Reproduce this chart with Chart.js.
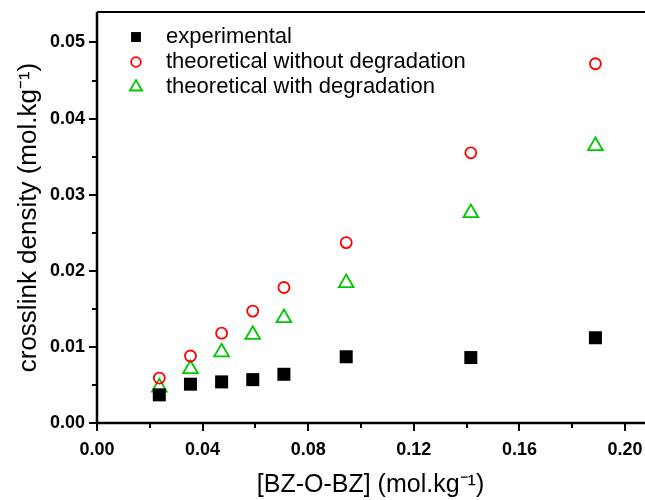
<!DOCTYPE html>
<html>
<head>
<meta charset="utf-8">
<script src="https://cdn.jsdelivr.net/npm/chart.js@4"></script>
<style>
html,body{margin:0;padding:0;background:#fff;overflow:hidden;}
#wrap{width:645px;height:500px;position:relative;}
</style>
</head>
<body>
<div id="wrap"><canvas id="c"></canvas></div>
<script>
// ---- data ----
const concentration = [0.0236, 0.0354, 0.0472, 0.0590, 0.0708, 0.0944, 0.1416, 0.1888];
const experimental = [0.0037, 0.0051, 0.0054, 0.0057, 0.0064, 0.0087, 0.0086, 0.0112];
const theoNoDegradation = [0.0059, 0.0088, 0.0118, 0.0147, 0.0178, 0.0237, 0.0355, 0.0472];
const theoWithDegradation = [0.0047, 0.0071, 0.0093, 0.0116, 0.0138, 0.0184, 0.0276, 0.0364];
const seriesNames = ['experimental', 'theoretical without degradation', 'theoretical with degradation'];
const xTickLabels = ['0.00', '0.04', '0.08', '0.12', '0.16', '0.20'];
const yTickLabels = ['0.00', '0.01', '0.02', '0.03', '0.04', '0.05'];
const xTitle = '[BZ-O-BZ] (mol.kg⁻¹)';
const yTitle = 'crosslink density (mol.kg⁻¹)';

const toPts = ys => concentration.map((x, i) => ({x: x, y: ys[i]}));
const FAMILY = '"Liberation Sans", Arial, Helvetica, sans-serif';

// stretch the plot area to the right edge (frame continues beyond the view)
const stretchPlugin = {
  id: 'stretchRight',
  afterLayout(chart) {
    const xs = chart.scales.x;
    const R = chart.width - 1;
    xs.right = R;
    xs.width = R - xs.left;
    xs.configure();
    xs._labelItems = null;
    xs._gridLineItems = null;
    chart.chartArea.right = R;
    chart.chartArea.width = R - chart.chartArea.left;
  }
};

const axesPlugin = {
  id: 'axesPlugin',
  afterDatasetsDraw(chart) {
    const ctx = chart.ctx;
    const a = chart.chartArea;
    const xs = chart.scales.x, ys = chart.scales.y;
    ctx.save();
    ctx.strokeStyle = '#000';
    ctx.lineWidth = 2;
    ctx.beginPath();
    ctx.moveTo(a.left, a.top); ctx.lineTo(chart.width, a.top);
    ctx.stroke();
    ctx.lineWidth = 2.5;
    ctx.beginPath();
    ctx.moveTo(a.left, a.top); ctx.lineTo(a.left, a.bottom); ctx.lineTo(chart.width, a.bottom);
    ctx.stroke();
    ctx.lineWidth = 2;
    xs.ticks.forEach(t => {
      const px = Math.round(xs.getPixelForValue(t.value));
      const major = Math.abs(Math.round(t.value / 0.04) * 0.04 - t.value) < 1e-9;
      ctx.beginPath();
      ctx.moveTo(px, a.bottom); ctx.lineTo(px, a.bottom + (major ? 8 : 5));
      ctx.stroke();
    });
    ys.ticks.forEach(t => {
      const py = Math.round(ys.getPixelForValue(t.value));
      const major = Math.abs(Math.round(t.value / 0.01) * 0.01 - t.value) < 1e-9;
      ctx.beginPath();
      ctx.moveTo(a.left, py); ctx.lineTo(a.left - (major ? 8 : 5), py);
      ctx.stroke();
    });
    ctx.restore();
  }
};

const legendPlugin = {
  id: 'insideLegend',
  afterDraw(chart) {
    const ctx = chart.ctx;
    const x0 = 136, tx = 166, y0 = 37, dy = 25;
    chart.data.datasets.forEach((ds, i) => {
      const y = y0 + i * dy;
      ctx.save();
      ctx.fillStyle = ds.backgroundColor;
      ctx.strokeStyle = ds.borderColor;
      ctx.lineWidth = ds.borderWidth;
      Chart.helpers.drawPoint(ctx, {pointStyle: ds.pointStyle, radius: ds.legendRadius, borderWidth: ds.borderWidth, rotation: 0}, x0, y);
      ctx.restore();
      ctx.save();
      ctx.font = '22px ' + FAMILY;
      ctx.textBaseline = 'middle';
      ctx.fillStyle = '#000';
      ctx.fillText(ds.label, tx, y);
      ctx.restore();
    });
  }
};

new Chart(document.getElementById('c'), {
  type: 'scatter',
  data: {
    datasets: [
      {label: seriesNames[0], data: toPts(experimental), pointStyle: 'rect', pointRadius: 9.2,
       backgroundColor: '#000', borderColor: '#000', borderWidth: 0, legendRadius: 7},
      {label: seriesNames[1], data: toPts(theoNoDegradation), pointStyle: 'circle', pointRadius: 5.5,
       backgroundColor: 'rgba(0,0,0,0)', borderColor: '#ff0000', borderWidth: 1.8, legendRadius: 4.8},
      {label: seriesNames[2], data: toPts(theoWithDegradation), pointStyle: 'triangle', pointRadius: 8.5,
       backgroundColor: 'rgba(0,0,0,0)', borderColor: '#00c800', borderWidth: 1.8, legendRadius: 7}
    ]
  },
  options: {
    responsive: true,
    maintainAspectRatio: false,
    animation: false,
    events: [],
    layout: {padding: {top: 12, right: 1, left: 0, bottom: 0}},
    plugins: {legend: {display: false}, tooltip: {enabled: false}},
    scales: {
      x: {
        type: 'linear', min: 0, max: 0.2072,
        afterBuildTicks: s => { const t = []; for (let i = 0; i <= 10; i++) t.push({value: +(i * 0.02).toFixed(2)}); s.ticks = t; },
        afterFit: s => { s.height = 77; s.paddingLeft = 0; s.paddingRight = 0; },
        grid: {display: true, drawOnChartArea: false, drawTicks: true, tickLength: 16,
               color: 'rgba(0,0,0,0)', tickColor: 'rgba(0,0,0,0)'},
        border: {display: false},
        ticks: {
          autoSkip: false, maxRotation: 0, padding: 0, color: '#000', font: {family: FAMILY, size: 18, weight: 'bold'},
          callback: v => { const i = Math.round(v / 0.04); return Math.abs(i * 0.04 - v) < 1e-9 ? xTickLabels[i] : ''; }
        },
        title: {display: true, text: xTitle, color: '#000', font: {family: FAMILY, size: 25}, padding: {top: 0, bottom: 0}}
      },
      y: {
        type: 'linear', min: 0, max: 0.054,
        afterBuildTicks: s => { const t = []; for (let i = 0; i <= 10; i++) t.push({value: +(i * 0.005).toFixed(3)}); s.ticks = t; },
        afterFit: s => { s.width = 97; s.paddingTop = 0; s.paddingBottom = 0; },
        grid: {display: false, drawTicks: false},
        border: {display: false},
        ticks: {
          autoSkip: false, padding: 12, color: '#000', font: {family: FAMILY, size: 18, weight: 'bold'},
          callback: v => { const i = Math.round(v / 0.01); return Math.abs(i * 0.01 - v) < 1e-9 ? yTickLabels[i] : ''; }
        },
        title: {display: true, text: yTitle, color: '#000', font: {family: FAMILY, size: 26}, padding: {top: 13, bottom: 0}}
      }
    }
  },
  plugins: [stretchPlugin, axesPlugin, legendPlugin]
});
</script>
</body>
</html>
